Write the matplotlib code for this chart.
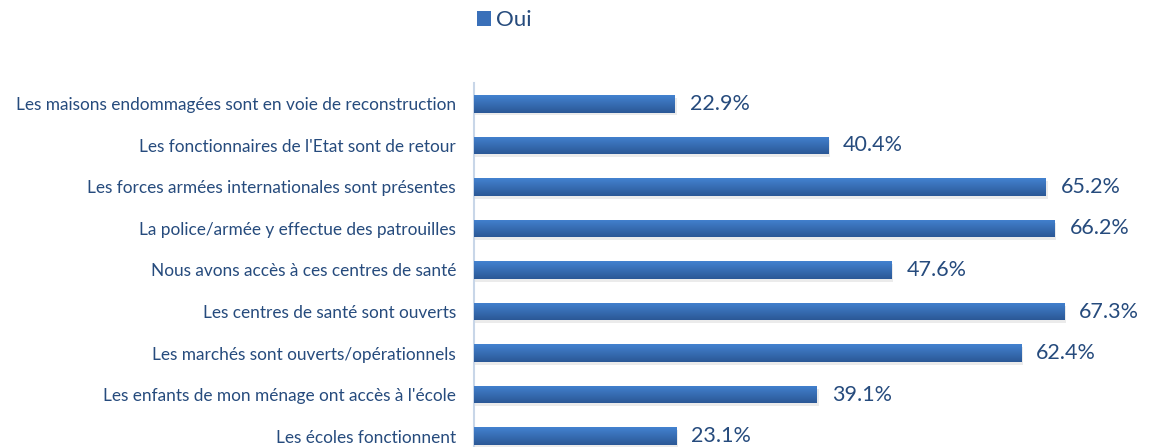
import numpy as np
import matplotlib.pyplot as plt
from matplotlib.patches import Patch
from matplotlib.colors import LinearSegmentedColormap

categories = [
    "Les maisons endommagées sont en voie de reconstruction",
    "Les fonctionnaires de l'Etat sont de retour",
    "Les forces armées internationales sont présentes",
    "La police/armée y effectue des patrouilles",
    "Nous avons accès à ces centres de santé",
    "Les centres de santé sont ouverts",
    "Les marchés sont ouverts/opérationnels",
    "Les enfants de mon ménage ont accès à l'école",
    "Les écoles fonctionnent",
]
oui = [22.9, 40.4, 65.2, 66.2, 47.6, 67.3, 62.4, 39.1, 23.1]

text_col = "#264b7d"
plt.rcParams['font.family'] = ['Lato', 'DejaVu Sans']

fig = plt.figure(figsize=(11.57, 4.47), dpi=100)
ax = fig.add_axes([474 / 1157, -10 / 447, 683 / 1157, 374 / 447])

y = np.arange(len(categories))
bars = ax.barh(y, oui, height=0.42, color="#3a70b9", zorder=3)

# soft shadow + vertical gradient on each bar
grad = np.linspace(0, 1, 50).reshape(-1, 1)
cmap = LinearSegmentedColormap.from_list("b", ["#4382d0", "#2b5896"])
for b in bars:
    x0, y0, w, h = b.get_x(), b.get_y(), b.get_width(), b.get_height()
    ax.barh(y0 + h / 2 + 0.07, w + 0.2, height=h, left=x0, color="#000000",
            alpha=0.08, zorder=2)
    im = ax.imshow(grad, cmap=cmap, aspect='auto', zorder=4,
                   extent=(x0, x0 + w, y0 + h, y0))
    im.set_clip_path(b)

for yi, v in zip(y, oui):
    ax.text(v + 1.7, yi, f"{v:.1f}%", va='center', ha='left',
            fontsize=15.5, color=text_col, zorder=5)

ax.set_xlim(0, 683 / 8.77)
ax.set_ylim(len(categories) - 0.5, -0.5)
ax.set_yticks(y)
ax.set_yticklabels(categories, fontsize=12.4, color=text_col)
ax.tick_params(axis='y', length=0, pad=13)
ax.set_xticks([])
for s in ['top', 'right', 'bottom']:
    ax.spines[s].set_visible(False)
ax.spines['left'].set_color("#c8d6e8")
ax.spines['left'].set_linewidth(1.5)

fig.legend(handles=[Patch(facecolor="#3a70b9", label="Oui")], loc='center left',
           bbox_to_anchor=(457 / 1157, 1 - 20 / 447), frameon=False,
           fontsize=16, handlelength=0.65, handleheight=0.65, handletextpad=0.2,
           labelcolor=text_col)

fig.savefig("out.png", dpi=100)
